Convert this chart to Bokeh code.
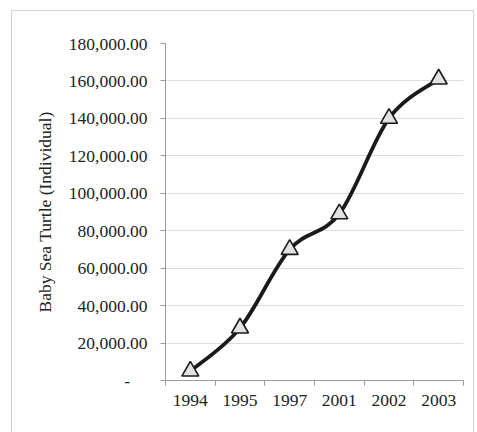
from bokeh.plotting import figure
from bokeh.models import Range1d, FixedTicker, NumeralTickFormatter, InlineStyleSheet
from bokeh.embed import file_html
from bokeh.resources import INLINE
import numpy as np

years = ["1994", "1995", "1997", "2001", "2002", "2003"]
turtles = [5000, 28000, 70000, 89000, 140000, 161000]
y_ticks = list(range(0, 180001, 20000))
y_label = "Baby Sea Turtle (Individual)"

FONT = "Liberation Serif"
FS = "17.5px"
n = len(years)
xs = [i + 0.5 for i in range(n)]

p = figure(width=477, height=432, output_backend="svg", toolbar_location=None,
           x_range=Range1d(0, n), y_range=Range1d(0, 180000),
           min_border_left=165, min_border_right=14, min_border_top=43, min_border_bottom=52)
p.outline_line_color = None
p.background_fill_color = "white"
p.border_fill_color = "white"
p.xgrid.visible = False
p.ygrid.ticker = FixedTicker(ticks=y_ticks)
p.ygrid.grid_line_color = "#dcdcdc"

# smoothed line (Catmull-Rom -> cubic Bezier) from the data values
P = np.column_stack([xs, turtles]).astype(float)
x0, y0, x1, y1, cx0, cy0, cx1, cy1 = [], [], [], [], [], [], [], []
for i in range(n - 1):
    a, b = P[i], P[i + 1]
    prev = P[i - 1] if i > 0 else P[i]
    nxt = P[i + 2] if i + 2 < n else P[i + 1]
    c0 = a + (b - prev) / 6.0
    c1 = b - (nxt - a) / 6.0
    x0.append(a[0]); y0.append(a[1]); x1.append(b[0]); y1.append(b[1])
    cx0.append(c0[0]); cy0.append(c0[1]); cx1.append(c1[0]); cy1.append(c1[1])
p.bezier(x0=x0, y0=y0, x1=x1, y1=y1, cx0=cx0, cy0=cy0, cx1=cx1, cy1=cy1,
         line_color="#1a1a1a", line_width=3.8)
p.scatter(xs, turtles, marker="triangle", size=17, fill_color="#e2e2e2",
          line_color="#1a1a1a", line_width=1.6)

xa = p.xaxis[0]
xa.ticker = FixedTicker(ticks=xs, minor_ticks=list(range(n + 1)))
xa.major_label_overrides = {x: y for x, y in zip(xs, years)}
xa.major_tick_in = 0
xa.major_tick_out = 0
xa.minor_tick_in = 0
xa.minor_tick_out = 5
xa.minor_tick_line_color = "#9a9a9a"
xa.axis_line_color = "#9a9a9a"
xa.major_label_text_font = FONT
xa.major_label_text_font_size = FS
xa.major_label_text_color = "#222222"
xa.major_label_standoff = 9

ya = p.yaxis[0]
ya.ticker = FixedTicker(ticks=y_ticks)
ya.formatter = NumeralTickFormatter(format="0,0.00")
ya.major_label_overrides = {0: "-" + "\u00a0" * 4}
ya.major_tick_in = 0
ya.major_tick_out = 5
ya.minor_tick_line_color = None
ya.major_tick_line_color = "#9a9a9a"
ya.axis_line_color = "#9a9a9a"
ya.major_label_text_font = FONT
ya.major_label_text_font_size = FS
ya.major_label_text_color = "#222222"
ya.major_label_standoff = 13
ya.axis_label = y_label
ya.axis_label_text_font = FONT
ya.axis_label_text_font_size = FS
ya.axis_label_text_font_style = "normal"
ya.axis_label_text_color = "#222222"
ya.axis_label_standoff = 11

p.stylesheets = [InlineStyleSheet(css="""
:host { position: relative; }
:host::after {
  content: ""; position: absolute; left: 11px; top: 10px;
  width: 463px; height: 422px; box-sizing: border-box;
  border: 1px solid #d2d2d2; border-bottom: none; pointer-events: none;
}
""")]

open("out.html", "w").write(file_html(p, INLINE))
